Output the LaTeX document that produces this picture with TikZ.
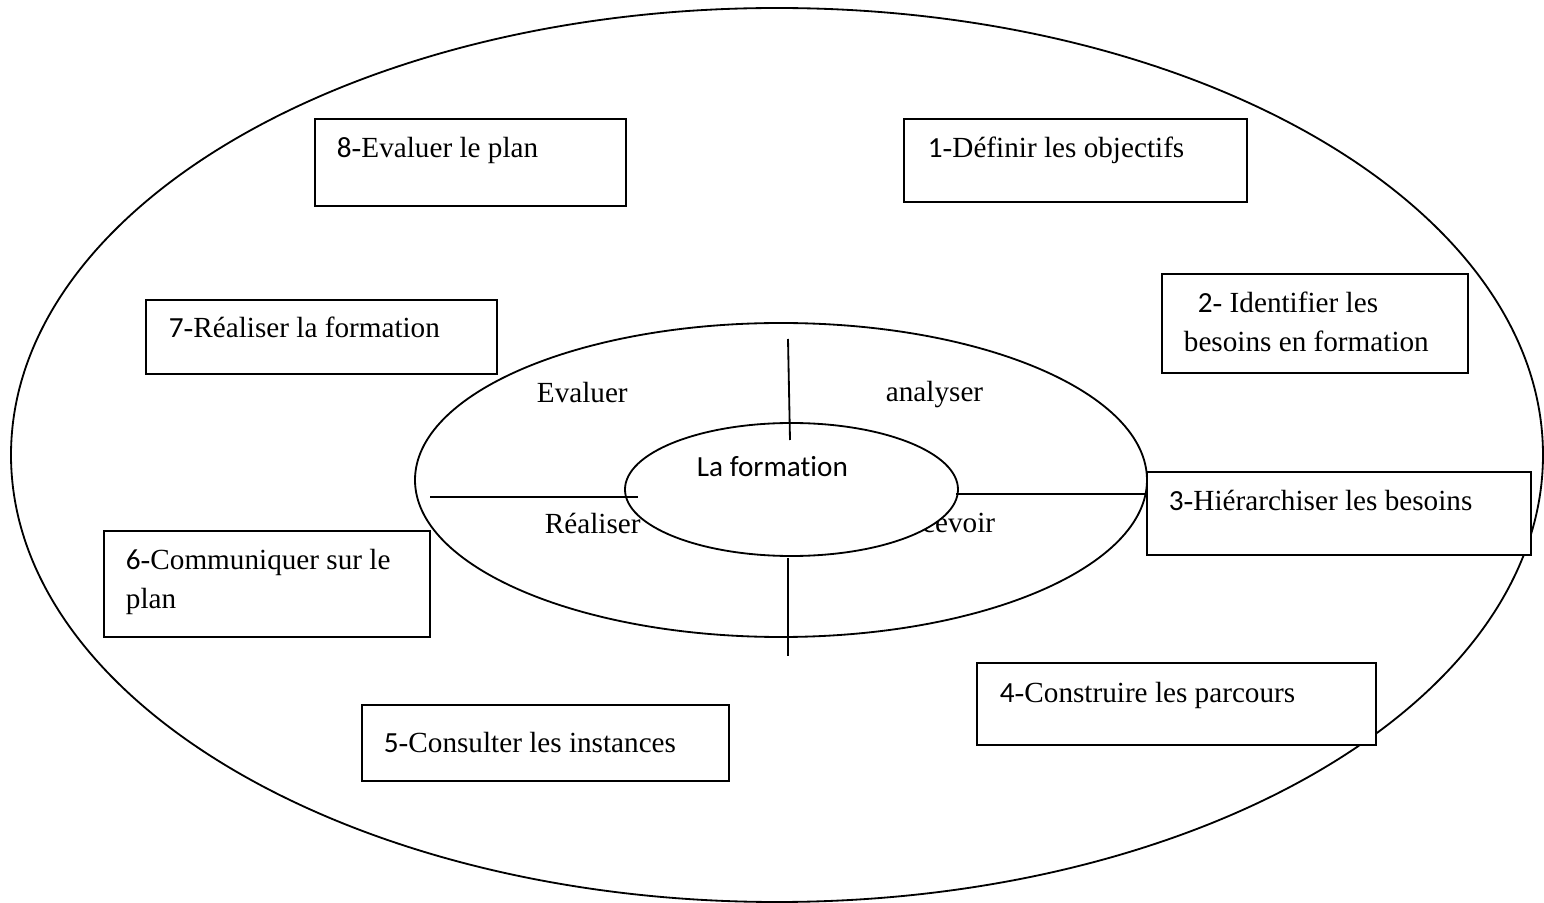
\documentclass[tikz,border=0pt]{standalone}
\usepackage{fontspec}
\setmainfont{Liberation Serif}
\newfontfamily\calfont[Ligatures=NoCommon]{Carlito}
\begin{document}
\begin{tikzpicture}[x=0.411pt, y=-0.411pt, line width=0.75pt,
  steptext/.style={inner sep=0pt, anchor=base west, font=\fontsize{12}{16}\selectfont},
  stepbox/.style={draw, fill=white}]
  \useasboundingbox (0,0) rectangle (1544,903);
  % outer ring
  \draw (777,455) ellipse [x radius=766, y radius=447];
  % middle ring
  \draw (781,480) ellipse [x radius=366, y radius=157];
  \node[steptext] (evaluer) at (536,403) {Evaluer};
  \node[steptext] (analyser) at (885,402) {analyser};
  \node[steptext] (realiser) at (544,534) {Réaliser};
  \node[steptext, anchor=base east] (concevoir) at (996,533) {Concevoir};
  % centre
  \draw[fill=white] (791.5,489.5) ellipse [x radius=166.5, y radius=66.5];
  \node[steptext, font=\calfont\fontsize{12}{16}\selectfont] (centre) at (696,477) {La formation};
  % cross
  \draw (788,339) -- (790,440);
  \draw (788,558) -- (788,656);
  \draw (430,497) -- (638,497);
  \draw (956,494) -- (1146,494);
  % steps
  \draw[stepbox] (904,119) rectangle (1247,202);
  \node[steptext] (s1) at (927,158) {{\calfont 1}-Définir les objectifs};
  \draw[stepbox] (1162,274) rectangle (1468,373);
  \node[steptext] (s2a) at (1197,313) {{\calfont 2}- Identifier les};
  \node[steptext] (s2b) at (1183,352) {besoins en formation};
  \draw[stepbox] (1147,472) rectangle (1531,555);
  \node[steptext] (s3) at (1168,511) {{\calfont 3}-Hiérarchiser les besoins};
  \draw[stepbox] (977,663) rectangle (1376,745);
  \node[steptext] (s4) at (999,702) {{\calfont 4}-Construire les parcours};
  \draw[stepbox] (362,705) rectangle (729,781);
  \node[steptext] (s5) at (383,753) {{\calfont 5}-Consulter les instances};
  \draw[stepbox] (104,531) rectangle (430,637);
  \node[steptext] (s6a) at (125,570) {{\calfont 6}-Communiquer sur le};
  \node[steptext] (s6b) at (125,609) {plan};
  \draw[stepbox] (146,300) rectangle (497,374);
  \node[steptext] (s7) at (168,338) {{\calfont 7}-Réaliser la formation};
  \draw[stepbox] (315,119) rectangle (626,206);
  \node[steptext] (s8) at (336,158) {{\calfont 8}-Evaluer le plan};
\end{tikzpicture}
\end{document}
